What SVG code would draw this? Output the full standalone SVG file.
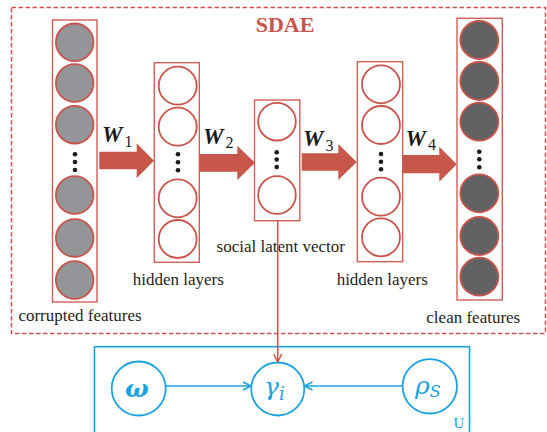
<svg xmlns="http://www.w3.org/2000/svg" width="547" height="432" viewBox="0 0 547 432">
  <defs>
    <style>
      .frame { fill: none; stroke: #d0534b; stroke-width: 1.5; stroke-dasharray: 4.5 2.5; }
      .col { fill: #ffffff; stroke: #cf5f57; stroke-width: 1.4; }
      .unit { fill: #ffffff; stroke: #c9544a; stroke-width: 1.8; }
      .in { fill: #939598; }
      .out { fill: #626264; }
      .dot { fill: #1a1a1a; }
      .flow { fill: #c8574b; }
      .lbl { font-family: "Liberation Serif", "Times New Roman", serif; font-size: 17px; fill: #231f20; }
      .w { font-family: "Liberation Serif", "Times New Roman", serif; font-size: 23px; font-weight: bold; font-style: italic; fill: #1a1a1a; }
      .wsub { font-family: "Liberation Serif", "Times New Roman", serif; font-size: 16px; font-weight: normal; font-style: normal; fill: #1a1a1a; }
      .title { font-family: "Liberation Serif", "Times New Roman", serif; font-size: 22px; font-weight: bold; fill: #c9544a; }
      .plate { fill: none; stroke: #1ba3df; stroke-width: 1.6; }
      .var { fill: #ffffff; stroke: #1ba3df; stroke-width: 1.8; }
      .greek { font-family: "DejaVu Serif", "Liberation Serif", serif; font-style: italic; fill: #1ba3df; }
      .edge { fill: none; stroke: #1ba3df; stroke-width: 1.6; }
      .link { fill: none; stroke: #c9544a; stroke-width: 1.5; }
    </style>
    <marker id="headBlue" viewBox="0 0 10 10" refX="9" refY="5" markerWidth="10" markerHeight="10" markerUnits="userSpaceOnUse" orient="auto">
      <path d="M1,1 L9,5 L1,9" fill="none" stroke="#1ba3df" stroke-width="1.6"/>
    </marker>
    <marker id="headRed" viewBox="0 0 10 10" refX="9" refY="5" markerWidth="10" markerHeight="10" markerUnits="userSpaceOnUse" orient="auto">
      <path d="M1,1 L9,5 L1,9" fill="none" stroke="#c9544a" stroke-width="1.5"/>
    </marker>
  </defs>

  <!-- autoencoder frame -->
  <g id="sdae">
    <rect class="frame" x="11.5" y="7.5" width="534" height="326"/>
    <text class="title" x="285" y="31.5" text-anchor="middle">SDAE</text>
  </g>

  <!-- input layer -->
  <g id="corrupted">
    <rect class="col" x="52.5" y="20" width="44.5" height="282"/>
    <circle class="unit in" cx="74.7" cy="42.3" r="18.8"/>
    <circle class="unit in" cx="74.7" cy="83" r="18.8"/>
    <circle class="unit in" cx="74.7" cy="124.7" r="18.8"/>
    <circle class="dot" cx="75" cy="154.3" r="2.3"/>
    <circle class="dot" cx="75" cy="162" r="2.3"/>
    <circle class="dot" cx="75" cy="170" r="2.3"/>
    <circle class="unit in" cx="74.7" cy="195" r="18.8"/>
    <circle class="unit in" cx="74.7" cy="238" r="18.8"/>
    <circle class="unit in" cx="74.7" cy="280" r="18.8"/>
    <text class="lbl" x="80" y="320.7" text-anchor="middle">corrupted features</text>
  </g>

  <!-- first hidden layer -->
  <g id="hidden1">
    <rect class="col" x="154.3" y="62.7" width="45" height="199.6"/>
    <circle class="unit" cx="177.7" cy="85.7" r="19"/>
    <circle class="unit" cx="177.7" cy="126.7" r="19"/>
    <circle class="dot" cx="178" cy="154.3" r="2.3"/>
    <circle class="dot" cx="178" cy="162.3" r="2.3"/>
    <circle class="dot" cx="178" cy="170.3" r="2.3"/>
    <circle class="unit" cx="177.7" cy="198.3" r="19"/>
    <circle class="unit" cx="177.7" cy="239" r="19"/>
    <text class="lbl" x="178.3" y="285" text-anchor="middle">hidden layers</text>
  </g>

  <!-- bottleneck -->
  <g id="latent">
    <rect class="col" x="254.5" y="100" width="45.3" height="120.7"/>
    <circle class="unit" cx="277" cy="121.7" r="18.8"/>
    <circle class="dot" cx="276.7" cy="152.3" r="2.3"/>
    <circle class="dot" cx="276.7" cy="159.5" r="2.3"/>
    <circle class="dot" cx="276.7" cy="167" r="2.3"/>
    <circle class="unit" cx="277" cy="195" r="18.8"/>
    <text class="lbl" x="280.8" y="251.7" text-anchor="middle">social latent vector</text>
  </g>

  <!-- second hidden layer -->
  <g id="hidden2">
    <rect class="col" x="357.3" y="61.7" width="45.4" height="200"/>
    <circle class="unit" cx="381" cy="84.3" r="19"/>
    <circle class="unit" cx="381" cy="125" r="19"/>
    <circle class="dot" cx="381" cy="154" r="2.3"/>
    <circle class="dot" cx="381" cy="161.7" r="2.3"/>
    <circle class="dot" cx="381" cy="169.3" r="2.3"/>
    <circle class="unit" cx="381" cy="196.7" r="19"/>
    <circle class="unit" cx="381" cy="237.3" r="19"/>
    <text class="lbl" x="382.2" y="285" text-anchor="middle">hidden layers</text>
  </g>

  <!-- output layer -->
  <g id="clean">
    <rect class="col" x="457" y="18.3" width="45.3" height="281.7"/>
    <circle class="unit out" cx="479.3" cy="40" r="19"/>
    <circle class="unit out" cx="479.3" cy="81" r="19"/>
    <circle class="unit out" cx="479.3" cy="121.7" r="19"/>
    <circle class="dot" cx="479.3" cy="151.7" r="2.3"/>
    <circle class="dot" cx="479.3" cy="159.3" r="2.3"/>
    <circle class="dot" cx="479.3" cy="167.3" r="2.3"/>
    <circle class="unit out" cx="479.3" cy="193.3" r="19"/>
    <circle class="unit out" cx="479.3" cy="236" r="19"/>
    <circle class="unit out" cx="479.3" cy="276.7" r="19"/>
    <text class="lbl" x="473.3" y="323.3" text-anchor="middle">clean features</text>
  </g>

  <!-- probabilistic part -->
  <g id="plate">
    <rect class="plate" x="94.5" y="346.7" width="375" height="100"/>
    <text x="453.5" y="427.5" font-family="Liberation Serif, serif" font-size="15" fill="#1ba3df">U</text>
  </g>
  <g id="omega">
    <circle class="var" cx="138.7" cy="388.5" r="27"/>
    <text class="greek" x="137" y="397" font-size="25" font-weight="bold" text-anchor="middle">ω</text>
  </g>
  <g id="gamma">
    <circle class="var" cx="277.8" cy="389" r="26.5"/>
    <text class="greek" x="264" y="395" font-size="25">γ<tspan font-size="18" dy="5">i</tspan></text>
  </g>
  <g id="rho">
    <circle class="var" cx="429.8" cy="386.3" r="27.2"/>
    <text class="greek" x="415" y="394" font-size="25">ρ<tspan font-size="16" dy="3">S</tspan></text>
  </g>

  <!-- connectors -->
  <g id="connectors">
    <polygon class="flow" points="99.3,151.7 136.7,151.7 136.7,143.3 154,160.8 136.7,178.3 136.7,169.3 99.3,169.3"/>
    <polygon class="flow" points="200,154 237.3,154 237.3,145.7 255,162.8 237.3,180 237.3,171.7 200,171.7"/>
    <polygon class="flow" points="301.7,153.3 338.3,153.3 338.3,144 356.7,162 338.3,180 338.3,170.7 301.7,170.7"/>
    <polygon class="flow" points="402.7,155 439.3,155 439.3,146.7 456.7,164.2 439.3,181.7 439.3,173.3 402.7,173.3"/>
    <text class="w" x="102" y="142">W<tspan class="wsub" dx="2" dy="5">1</tspan></text>
    <text class="w" x="203" y="144">W<tspan class="wsub" dx="2" dy="4">2</tspan></text>
    <text class="w" x="303" y="146">W<tspan class="wsub" dx="2" dy="4.5">3</tspan></text>
    <text class="w" x="405.5" y="146">W<tspan class="wsub" dx="2" dy="4">4</tspan></text>
    <line class="link" x1="277.7" y1="221" x2="277.7" y2="362" marker-end="url(#headRed)"/>
    <line class="edge" x1="165.7" y1="386" x2="251" y2="386" marker-end="url(#headBlue)"/>
    <line class="edge" x1="402.5" y1="386" x2="304.5" y2="386" marker-end="url(#headBlue)"/>
  </g>
</svg>
